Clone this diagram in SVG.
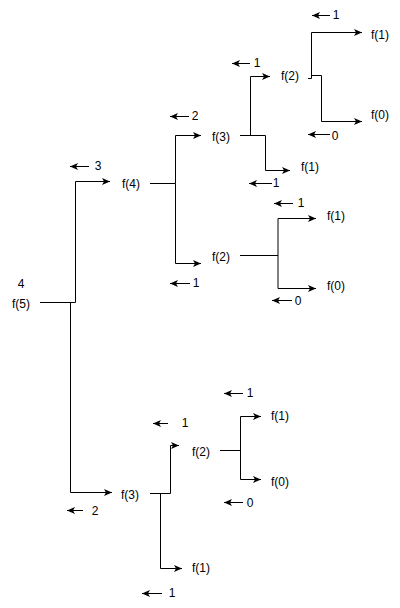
<svg xmlns="http://www.w3.org/2000/svg" width="400" height="608" viewBox="0 0 400 608">
<style>
text{font-family:"Liberation Sans",Arial,sans-serif;font-size:12px;fill:#000;text-anchor:middle}
.c{fill:none;stroke:#000;stroke-width:1}
.a{fill:none;stroke:#000;stroke-width:1;marker-end:url(#ah)}
</style>
<defs>
<marker id="ah" markerUnits="userSpaceOnUse" markerWidth="10" markerHeight="8" refX="8" refY="3.5" orient="auto">
<path d="M0,0 L8,3.5 L0,7 L2,3.5 z" fill="#000"/>
</marker>
</defs>
<rect width="400" height="608" fill="#fff"/>
<g id="connectors">
<path class="c" d="M40,302.5 H75.5"/>
<path class="a" d="M75.5,302.5 V181.5 H110"/>
<path class="a" d="M70.5,302.5 V492.5 H112"/>
<path class="c" d="M150,183.5 H175.5"/>
<path class="a" d="M175.5,183.5 V135.5 H201"/>
<path class="a" d="M175.5,183.5 V263.5 H201"/>
<path class="c" d="M240,135.5 H265.5"/>
<path class="a" d="M250.5,135.5 V76.5 H270"/>
<path class="a" d="M265.5,135.5 V170.5 H290"/>
<path class="a" d="M308,78.5 H311.5 V32.5 H362"/>
<path class="a" d="M311.5,75.5 H321.5 V121.5 H362"/>
<path class="c" d="M240,255.5 H278"/>
<path class="c" d="M278,218.5 V288.5"/>
<path class="a" d="M278,218.5 H316"/>
<path class="a" d="M278,288.5 H316"/>
<path class="c" d="M150,493.5 H170.5"/>
<path class="a" d="M170.5,493.5 V445.5 H179"/>
<path class="a" d="M160.5,493.5 V568.5 H182"/>
<path class="c" d="M220,450.5 H240.5"/>
<path class="c" d="M240.5,416.5 V479.5"/>
<path class="a" d="M240.5,416.5 H261"/>
<path class="a" d="M240.5,479.5 H261"/>
<path class="a" d="M89,166.5 H70"/>
<path class="a" d="M189,116.5 H170"/>
<path class="a" d="M190,283.5 H170"/>
<path class="a" d="M272,183.5 H249"/>
<path class="a" d="M250,63.5 H232"/>
<path class="a" d="M330,15.5 H312"/>
<path class="a" d="M330,134.5 H308"/>
<path class="a" d="M293,203.5 H274"/>
<path class="a" d="M292,300.5 H272"/>
<path class="a" d="M243,393.5 H224"/>
<path class="a" d="M168,423.5 H153"/>
<path class="a" d="M243,502.5 H224"/>
<path class="a" d="M162,593.5 H142"/>
<path class="a" d="M83,510.5 H67"/>
</g>
<g id="n-f5"><text x="21" y="288">4</text><text x="21" y="308">f(5)</text></g>
<g id="n-f4"><text x="131" y="188">f(4)</text></g>
<g id="n-v3"><text x="98" y="170">3</text></g>
<g id="n-f3a"><text x="221" y="141">f(3)</text></g>
<g id="n-v2a"><text x="195" y="120">2</text></g>
<g id="n-f2a"><text x="290" y="80">f(2)</text></g>
<g id="n-v1a"><text x="257" y="67">1</text></g>
<g id="n-f1a"><text x="380" y="39">f(1)</text></g>
<g id="n-v1b"><text x="336" y="19">1</text></g>
<g id="n-f0a"><text x="380" y="119">f(0)</text></g>
<g id="n-v0a"><text x="335" y="140">0</text></g>
<g id="n-f1b"><text x="310" y="171">f(1)</text></g>
<g id="n-v1c"><text x="276" y="187">1</text></g>
<g id="n-f2b"><text x="221" y="261">f(2)</text></g>
<g id="n-v1d"><text x="196" y="287">1</text></g>
<g id="n-f1c"><text x="336" y="220">f(1)</text></g>
<g id="n-v1e"><text x="301" y="207">1</text></g>
<g id="n-f0b"><text x="336" y="290">f(0)</text></g>
<g id="n-v0b"><text x="298" y="305">0</text></g>
<g id="n-f3b"><text x="130" y="499">f(3)</text></g>
<g id="n-v2b"><text x="95" y="515">2</text></g>
<g id="n-f2c"><text x="201" y="456">f(2)</text></g>
<g id="n-v1f"><text x="185" y="427">1</text></g>
<g id="n-f1d"><text x="280" y="420">f(1)</text></g>
<g id="n-v1g"><text x="250" y="397">1</text></g>
<g id="n-f0c"><text x="280" y="486">f(0)</text></g>
<g id="n-v0c"><text x="250" y="507">0</text></g>
<g id="n-f1e"><text x="201" y="572">f(1)</text></g>
<g id="n-v1h"><text x="172" y="597">1</text></g>
</svg>
